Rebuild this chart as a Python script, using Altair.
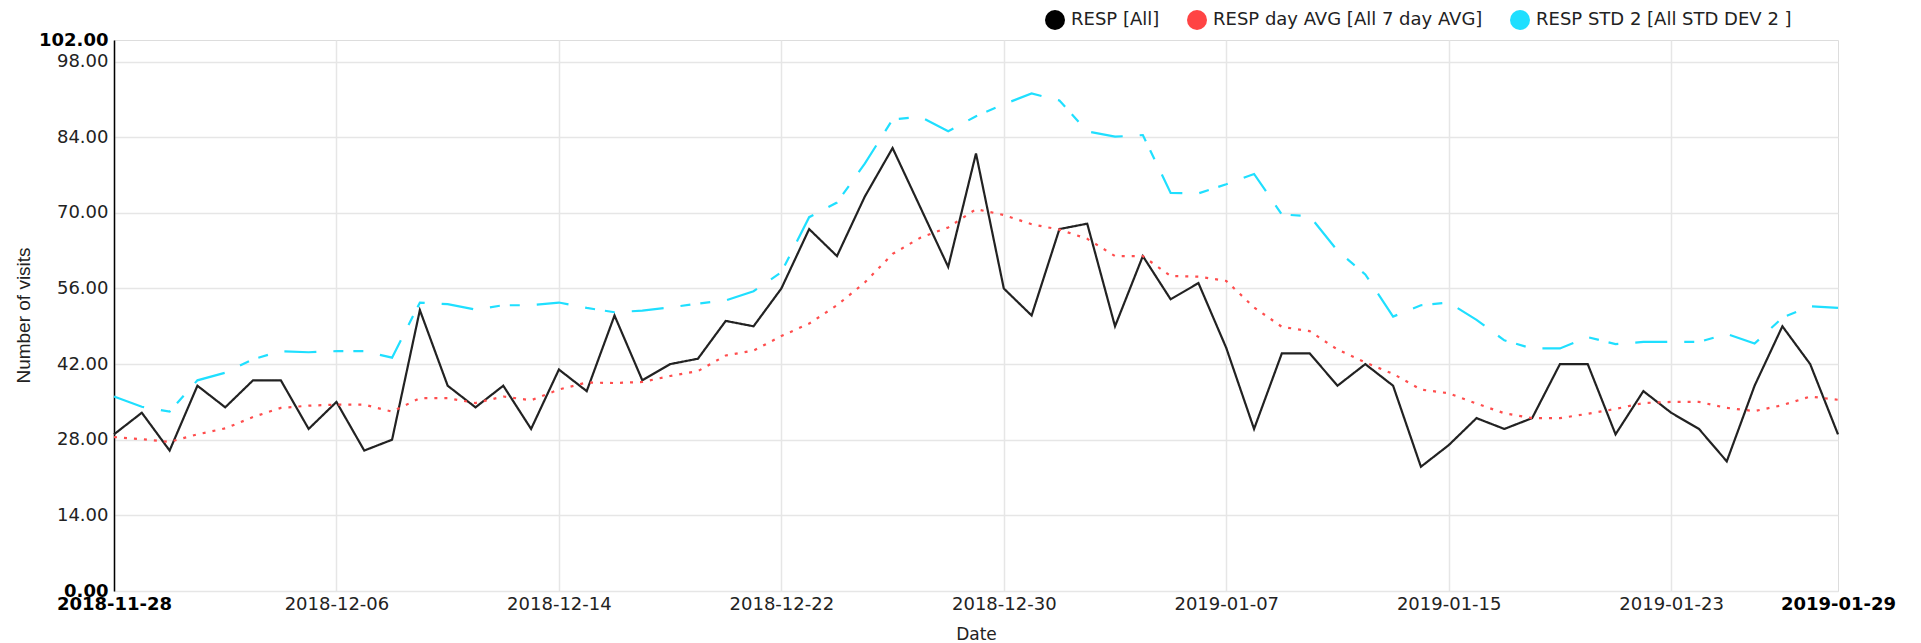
import altair as alt
import pandas as pd
from datetime import datetime, timezone

start_date = "2018-11-28"
n_days = 63

resp_all = [29, 33, 26, 38, 34, 39, 39, 30, 35, 26, 28, 52, 38, 34, 38, 30, 41, 37, 51, 39,
            42, 43, 50, 49, 56, 67, 62, 73, 82, 71, 60, 81, 56, 51, 67, 68, 49, 62, 54, 57,
            45, 30, 44, 44, 38, 42, 38, 23, 27, 32, 30, 32, 42, 42, 29, 37, 33, 30, 24, 38,
            49, 42, 29]
resp_avg = [28.5, 28.1, 27.6, 29.0, 30.1, 32.2, 33.9, 34.3, 34.5, 34.5, 33.2, 35.7, 35.7, 34.8,
            36.0, 35.3, 37.3, 38.6, 38.5, 38.7, 39.8, 40.7, 43.6, 44.5, 47.2, 49.5, 52.9, 57.1,
            62.4, 65.4, 67.3, 70.7, 69.6, 67.9, 66.9, 65.2, 62.0, 62.0, 58.3, 58.2, 57.4, 52.5,
            48.9, 48.1, 44.7, 42.3, 40.2, 37.3, 36.6, 34.7, 32.9, 32.0, 32.0, 32.8, 33.7, 34.8,
            35.0, 35.0, 33.9, 33.3, 34.4, 36.0, 35.4]
resp_std = [36.0, 34.1, 33.2, 39.0, 40.4, 42.9, 44.4, 44.2, 44.4, 44.4, 43.2, 53.4, 53.1, 52.1,
            52.9, 52.9, 53.4, 52.4, 51.6, 51.9, 52.5, 53.2, 53.8, 55.5, 59.0, 69.2, 71.9, 79.1,
            87.3, 87.8, 85.1, 87.9, 90.1, 92.1, 90.8, 85.1, 84.1, 84.4, 73.7, 73.6, 75.3, 77.2,
            69.7, 69.4, 63.0, 58.6, 50.8, 52.9, 53.4, 50.2, 46.4, 44.9, 44.9, 47.0, 45.7, 46.1,
            46.1, 46.1, 47.6, 45.8, 50.6, 52.7, 52.4]

series_names = ["RESP [All]", "RESP day AVG [All 7 day AVG]", "RESP STD 2 [All STD DEV 2 ]"]
series_colors = ["#222222", "#ff4d4d", "#1fdfff"]
legend_colors = ["#000000", "#ff4444", "#1fdfff"]
series_dash = [[1, 0], [3, 7], [32, 17, 10, 10, 10, 17]]

y_ticks = [0, 14, 28, 42, 56, 70, 84, 98, 102]
x_ticks = ["2018-11-28", "2018-12-06", "2018-12-14", "2018-12-22", "2018-12-30",
           "2019-01-07", "2019-01-15", "2019-01-23", "2019-01-29"]

dates = pd.date_range(start_date, periods=n_days, freq="D").strftime("%Y-%m-%d")
rows = []
for name, vals in zip(series_names, [resp_all, resp_avg, resp_std]):
    for d, v in zip(dates, vals):
        rows.append({"date": d, "series": name, "value": v})
df = pd.DataFrame(rows)


def ms(s):
    dt = datetime.strptime(s, "%Y-%m-%d").replace(tzinfo=timezone.utc)
    return int(dt.timestamp() * 1000)


first_ms, last_ms = ms(x_ticks[0]), ms(x_ticks[-1])
x_vals = [alt.DateTime(year=int(s[:4]), month=int(s[5:7]), date=int(s[8:]), utc=True) for s in x_ticks]

FONT = "DejaVu Sans"
end_test = f"datum.value == {first_ms} || datum.value == {last_ms}"

x_enc = alt.X(
    "date:T",
    scale=alt.Scale(type="utc", domain=[x_vals[0], x_vals[-1]], nice=False),
    axis=alt.Axis(
        values=x_vals, labelExpr="utcFormat(datum.value, '%Y-%m-%d')", title="Date",
        domain=False, ticks=False, labelPadding=4, labelOverlap=False,
        labelFlush=False, labelBound=False,
        labelFont=FONT, labelFontSize=18,
        labelColor={"condition": {"test": end_test, "value": "#000000"}, "value": "#222222"},
        labelFontWeight={"condition": {"test": end_test, "value": "bold"}, "value": "normal"},
        gridColor={"condition": {"test": f"datum.value == {last_ms}", "value": "transparent"}, "value": "#e6e6e6"},
        gridWidth=1.5,
        titleFont=FONT, titleFontSize=17, titleFontWeight="normal", titleColor="#222222",
        titleX=862, titleY=43, titleBaseline="middle", titleAlign="center",
    ),
)

y_enc = alt.Y(
    "value:Q",
    scale=alt.Scale(domain=[0, 102], nice=False, zero=True),
    axis=alt.Axis(
        values=y_ticks, format=".2f", title="Number of visits",
        domain=True, domainColor="#000000", domainWidth=1.5,
        ticks=False, labelPadding=6, labelOverlap=False, labelFlush=False, labelBound=False,
        labelFont=FONT, labelFontSize=18,
        labelColor={"condition": {"test": "datum.value == 0 || datum.value == 102", "value": "#000000"}, "value": "#222222"},
        labelFontWeight={"condition": {"test": "datum.value == 0 || datum.value == 102", "value": "bold"}, "value": "normal"},
        gridColor={"condition": {"test": "datum.value == 102", "value": "transparent"}, "value": "#e6e6e6"},
        gridWidth=1.5,
        titleFont="Liberation Sans", titleFontSize=19, titleFontWeight="normal", titleColor="#222222",
        titleX=-91, titleY=275, titleBaseline="middle", titleAlign="center", titleAngle=270,
    ),
)

lines = alt.Chart(df).mark_line(strokeWidth=2.2).encode(
    x=x_enc,
    y=y_enc,
    color=alt.Color("series:N", scale=alt.Scale(domain=series_names, range=series_colors), legend=None),
    strokeDash=alt.StrokeDash("series:N", scale=alt.Scale(domain=series_names, range=series_dash), legend=None),
)

points = alt.Chart(df).mark_point(filled=True, opacity=0, size=1).encode(
    x=x_enc,
    y=y_enc,
    fill=alt.Fill(
        "series:N", scale=alt.Scale(domain=series_names, range=legend_colors),
        legend=alt.Legend(
            title=None, orient="none", legendX=931, legendY=-30, direction="horizontal",
            symbolType="circle", symbolSize=400, symbolOpacity=1, symbolStrokeWidth=0,
            labelFont=FONT, labelFontSize=18, labelColor="#222222", labelOffset=6,
            columnPadding=27, padding=0, labelLimit=600,
        ),
    ),
)

chart = alt.layer(lines, points).resolve_scale(
    color="independent", fill="independent"
).resolve_legend(color="independent", fill="independent").properties(
    width=1724,
    height=551,
    autosize=alt.AutoSizeParams(type="none"),
    padding={"left": 106, "top": 32, "right": 60, "bottom": 52},
).configure_view(stroke=None).configure(background="white")

chart.save("out.html", embed_options={"renderer": "svg", "actions": False})
